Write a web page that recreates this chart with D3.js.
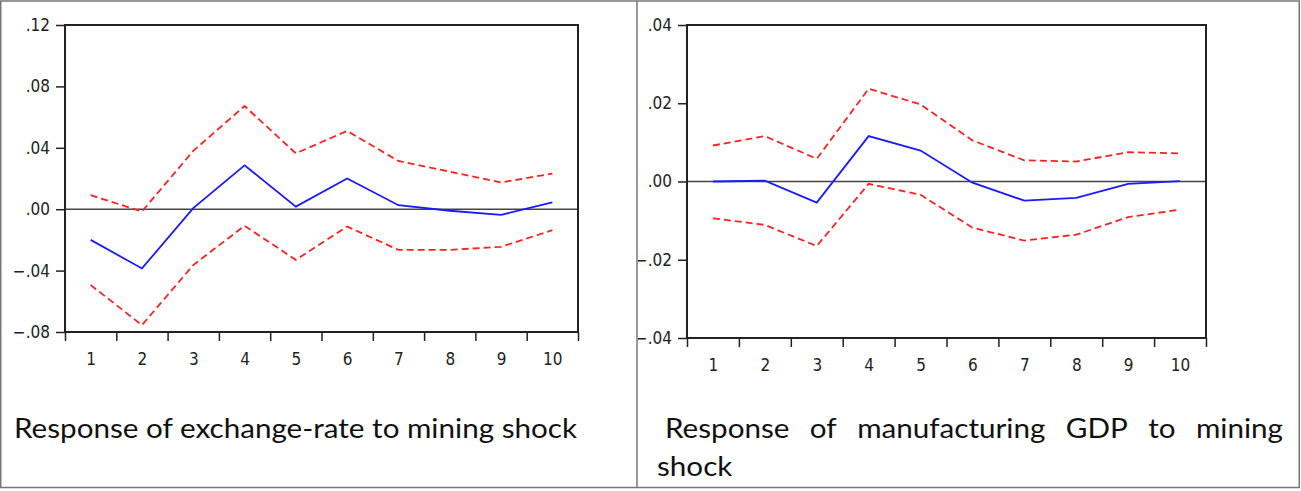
<!DOCTYPE html>
<html>
<head>
<meta charset="utf-8">
<script src="https://cdn.jsdelivr.net/npm/d3@7"></script>
<style>
  body { margin: 0; background: #fff; }
  .caption { font-family: Lato, "Open Sans", sans-serif; font-size: 27px; fill: #111; }
</style>
</head>
<body>
<svg id="page" width="1301" height="491"></svg>
<script>
// impulse response periods
var periods = [1, 2, 3, 4, 5, 6, 7, 8, 9, 10];

// response of exchange-rate to mining shock
var exResp  = [-0.020, -0.0386, 0.0007, 0.0286, 0.0017, 0.0200, 0.0026, -0.0010, -0.0037, 0.0044];
var exUpper = [0.0091, -0.0015, 0.0380, 0.0672, 0.0364, 0.0510, 0.0314, 0.0245, 0.0174, 0.0232];
var exLower = [-0.0494, -0.0755, -0.0364, -0.0108, -0.0330, -0.0113, -0.0265, -0.0265, -0.0245, -0.0137];
var exTicks = [-0.08, -0.04, 0, 0.04, 0.08, 0.12];

// response of manufacturing GDP to mining shock
var mfResp  = [0.0000, 0.0002, -0.0054, 0.0116, 0.0079, -0.0003, -0.0049, -0.0042, -0.0006, 0.0001];
var mfUpper = [0.0092, 0.0116, 0.0058, 0.0237, 0.0197, 0.0105, 0.0054, 0.0051, 0.0075, 0.0072];
var mfLower = [-0.0094, -0.0111, -0.0165, -0.0006, -0.0034, -0.0118, -0.0151, -0.0136, -0.0091, -0.0072];
var mfTicks = [-0.04, -0.02, 0, 0.02, 0.04];

var svg = d3.select('#page');

// clip for the right cell (its minus signs get cut by the cell border)
svg.append('clipPath').attr('id', 'rightCell')
    .append('rect').attr('x', 638).attr('y', 0).attr('width', 663).attr('height', 491);

function fmt(v) {
    return d3.format('.2f')(v).replace('0.', '.');
}

function styleText(s) {
    s.selectAll('text')
        .attr('font-family', '"DejaVu Sans Condensed", "DejaVu Sans", sans-serif')
        .attr('font-size', 17)
        .attr('fill', '#222');
}

function drawPanel(box, ticks, resp, upper, lower, clip) {
    var x = d3.scaleLinear().domain([0.5, 10.5]).range([box.left, box.right]);
    var y = d3.scaleLinear().domain(d3.extent(ticks)).range([box.bottom, box.top]);
    var g = svg.append('g');
    if (clip) g.attr('clip-path', 'url(#' + clip + ')');

    // y axis ticks
    g.append('g')
        .attr('transform', 'translate(' + box.left + ',0)')
        .call(d3.axisLeft(y).tickValues(ticks).tickFormat(fmt).tickSize(9).tickPadding(6))
        .call(s => s.select('.domain').remove())
        .call(s => s.selectAll('line').attr('stroke', '#222').attr('stroke-width', 1.5))
        .call(styleText);

    // x axis: marks on band edges, labels on band centres
    var edges = d3.range(0.5, 11, 1);
    g.append('g')
        .attr('transform', 'translate(0,' + box.bottom + ')')
        .call(d3.axisBottom(x).tickValues(edges).tickFormat('').tickSize(9))
        .call(s => s.select('.domain').remove())
        .call(s => s.selectAll('line').attr('stroke', '#222').attr('stroke-width', 1.5));
    g.append('g')
        .attr('transform', 'translate(0,' + box.bottom + ')')
        .call(d3.axisBottom(x).tickValues(periods).tickFormat(d3.format('d')).tickSize(0).tickPadding(21))
        .call(s => s.select('.domain').remove())
        .call(styleText);

    // zero line
    g.append('line')
        .attr('x1', box.left).attr('x2', box.right)
        .attr('y1', y(0)).attr('y2', y(0))
        .attr('stroke', '#444').attr('stroke-width', 1.4);

    var line = d3.line().x((d, i) => x(periods[i])).y(d => y(d));

    [upper, lower].forEach(function (band) {
        g.append('path')
            .attr('d', line(band))
            .attr('fill', 'none')
            .attr('stroke', '#ff2020')
            .attr('stroke-width', 1.8)
            .attr('stroke-dasharray', '7,4');
    });

    g.append('path')
        .attr('d', line(resp))
        .attr('fill', 'none')
        .attr('stroke', '#1a1aff')
        .attr('stroke-width', 1.8);

    // plot frame
    g.append('rect')
        .attr('x', box.left).attr('y', box.top)
        .attr('width', box.right - box.left).attr('height', box.bottom - box.top)
        .attr('fill', 'none').attr('stroke', '#222').attr('stroke-width', 2);
}

drawPanel({left: 65, right: 578, top: 25, bottom: 332}, exTicks, exResp, exUpper, exLower);
drawPanel({left: 687, right: 1206, top: 25, bottom: 338}, mfTicks, mfResp, mfUpper, mfLower, 'rightCell');

// table borders
svg.append('rect')
    .attr('x', 0.75).attr('y', 1).attr('width', 1298.5).attr('height', 486.5)
    .attr('fill', 'none').attr('stroke', '#777').attr('stroke-width', 1.5);
svg.append('line')
    .attr('x1', 637).attr('x2', 637).attr('y1', 1).attr('y2', 487.5)
    .attr('stroke', '#777').attr('stroke-width', 1.5);

// captions
var leftCap = svg.append('text').attr('class', 'caption')
    .attr('x', 14).attr('y', 438)
    .text('Response of exchange-rate to mining shock');
var squeeze = 563 / leftCap.node().getComputedTextLength();
leftCap.attr('textLength', 563).attr('lengthAdjust', 'spacingAndGlyphs');

// justified first line of the right caption
var words = ['Response', 'of', 'manufacturing', 'GDP', 'to', 'mining'];
var wNodes = svg.append('g').selectAll('text').data(words).enter().append('text')
    .attr('class', 'caption')
    .attr('y', 438)
    .text(d => d);
var widths = [];
wNodes.each(function () { widths.push(this.getComputedTextLength() * squeeze); });
var gap = (1283 - 665 - d3.sum(widths)) / (words.length - 1);
var cx = 665;
wNodes.each(function (d, i) {
    d3.select(this).attr('x', cx)
        .attr('textLength', widths[i]).attr('lengthAdjust', 'spacingAndGlyphs');
    cx += widths[i] + gap;
});
var shock = svg.append('text').attr('class', 'caption')
    .attr('x', 657).attr('y', 476)
    .text('shock');
shock.attr('textLength', shock.node().getComputedTextLength() * squeeze).attr('lengthAdjust', 'spacingAndGlyphs');
</script>
</body>
</html>
